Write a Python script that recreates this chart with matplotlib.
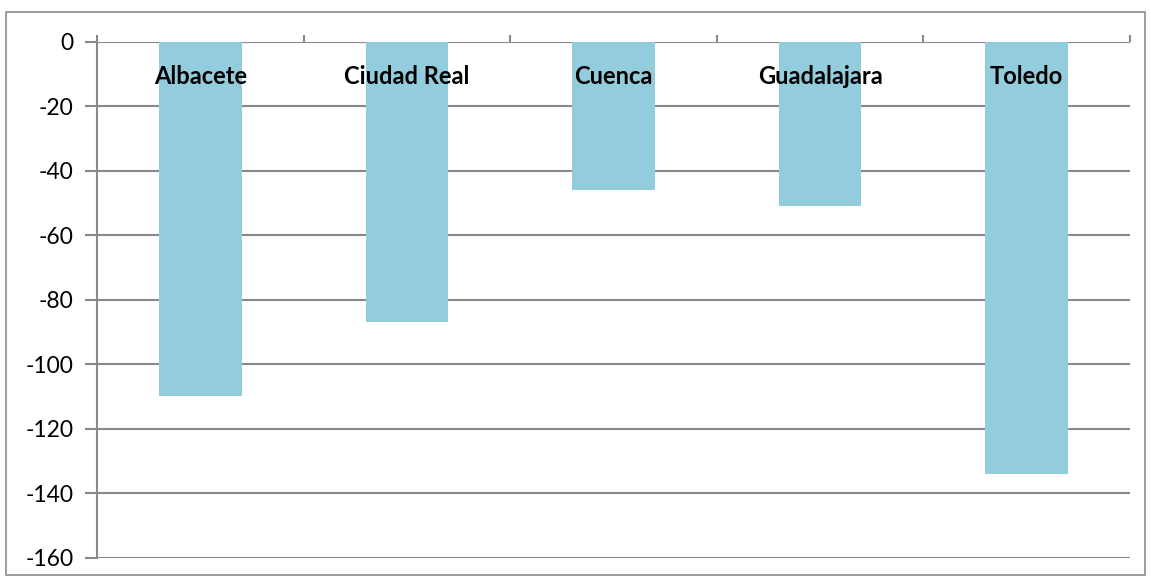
import matplotlib.pyplot as plt
from matplotlib.patches import Rectangle

provinces = ["Albacete", "Ciudad Real", "Cuenca", "Guadalajara", "Toledo"]
values = [-110, -87, -46, -51, -134]
y_ticks = [0, -20, -40, -60, -80, -100, -120, -140, -160]

plt.rcParams["font.family"] = ["Lato", "DejaVu Sans"]

fig = plt.figure(figsize=(11.51, 5.79), dpi=100)
ax = fig.add_axes([0.0843, 0.0368, 0.8975, 0.8912])

grid_col = "#898989"
ax.bar(range(len(provinces)), values, width=0.4, color="#93CDDD", zorder=3)

ax.set_xlim(-0.5, len(provinces) - 0.5)
ax.set_ylim(-160, 0)
ax.set_yticks(y_ticks)
ax.set_yticklabels([str(v) for v in y_ticks], fontsize=16.5)
ax.yaxis.grid(True, color=grid_col, linewidth=1.5, zorder=0)
ax.tick_params(axis="y", length=9, width=1.5, color=grid_col, pad=8)

# category boundary ticks on the zero line
ax.xaxis.tick_top()
ax.set_xticks([i - 0.5 for i in range(len(provinces) + 1)])
ax.set_xticklabels([])
ax.tick_params(axis="x", length=5, width=1.5, color=grid_col, direction="out")

for s in ["right", "bottom", "top"]:
    ax.spines[s].set_visible(False)
ax.spines["left"].set_color(grid_col)
ax.spines["left"].set_linewidth(1.5)

for i, name in enumerate(provinces):
    ax.text(i, -10.7, name, ha="center", va="center", fontsize=17,
            fontweight="bold", zorder=4)

# chart area border
fig.patches.append(Rectangle((0.005, 0.007), 0.99, 0.972, transform=fig.transFigure,
                             fill=False, edgecolor="#8c8c8c", linewidth=1.2))

fig.savefig("out.png", dpi=100)
